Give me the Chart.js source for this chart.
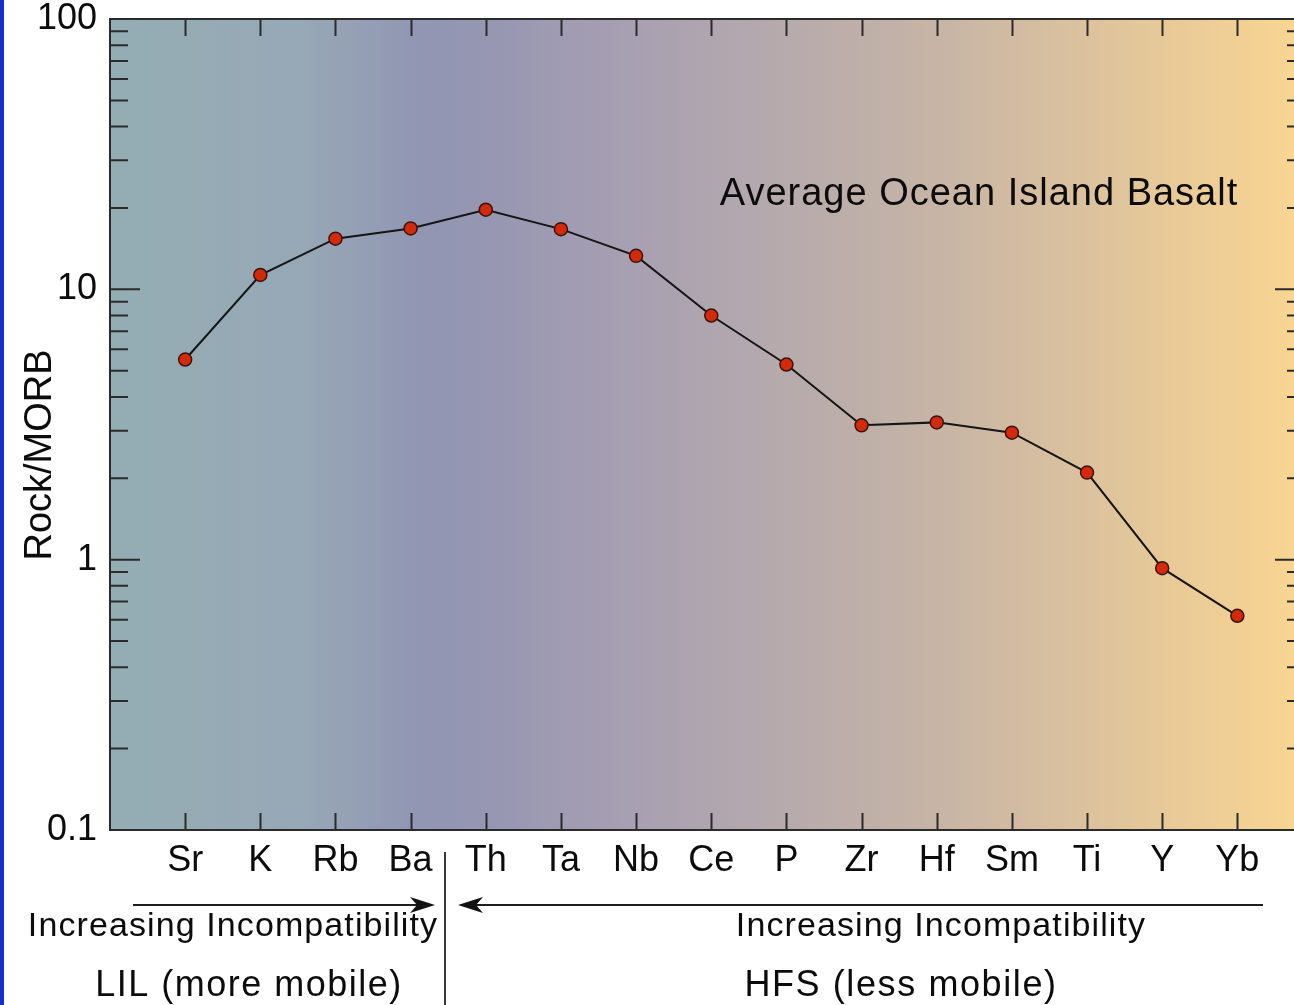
<!DOCTYPE html>
<html>
<head>
<meta charset="utf-8">
<script src="https://cdn.jsdelivr.net/npm/chart.js@4.4.1/dist/chart.umd.min.js"></script>
<style>
  html, body { margin: 0; padding: 0; background: #ffffff; overflow: hidden; }
  #wrap { position: relative; width: 1320px; height: 1005px; }
  #edge { position: absolute; left: 0; top: 0; width: 4px; height: 1005px; background: #1530c8; }
</style>
</head>
<body>
<div id="wrap"><canvas id="c"></canvas></div>
<div id="edge"></div>
<script>
// Trace elements, ordered by incompatibility
const elements = ['Sr', 'K', 'Rb', 'Ba', 'Th', 'Ta', 'Nb', 'Ce', 'P', 'Zr', 'Hf', 'Sm', 'Ti', 'Y', 'Yb'];
// Average ocean island basalt normalised to MORB
const oibOverMorb = [5.5, 11.3, 15.4, 16.8, 19.7, 16.7, 13.3, 8.0, 5.27, 3.14, 3.22, 2.95, 2.10, 0.93, 0.62];

const yTickValues = [0.1, 1, 10, 100];
const yTickLabels = ['0.1', '1', '10', '100'];
const minorSteps = [2, 3, 4, 5, 6, 7, 8, 9];

const chartTitle = 'Average Ocean Island Basalt';
const yTitle = 'Rock/MORB';
const lilLines = ['Increasing Incompatibility', 'LIL (more mobile)'];
const hfsLines = ['Increasing Incompatibility', 'HFS (less mobile)'];

const FONT = '"Liberation Sans", Arial, Helvetica, sans-serif';
const INK = '#0c0c0c';
const AXIS = '#2b2b2b';

// Background colour ramp across the plot area (left -> right)
const bgStops = [
  [0.00, '#94adb3'], [0.16, '#97a8b6'], [0.26, '#9196b3'], [0.31, '#9596b2'],
  [0.43, '#a79fb2'], [0.51, '#b0a6af'], [0.63, '#beafa8'], [0.70, '#c8b5a5'],
  [0.82, '#dcc29d'], [0.88, '#e7c998'], [1.00, '#fad692']
];

function spacedText(ctx, text, x, y, size, spacing) {
  ctx.font = `${size}px ${FONT}`;
  if ('letterSpacing' in ctx) ctx.letterSpacing = `${spacing}px`;
  ctx.fillText(text, x, y);
  if ('letterSpacing' in ctx) ctx.letterSpacing = '0px';
}

const decorations = {
  id: 'decorations',
  beforeDraw(chart) {
    const { ctx, chartArea: a } = chart;
    const g = ctx.createLinearGradient(a.left, 0, a.right, 0);
    bgStops.forEach(([p, c]) => g.addColorStop(p, c));
    ctx.save();
    ctx.fillStyle = g;
    ctx.fillRect(a.left, a.top, a.right - a.left, a.bottom - a.top);
    ctx.restore();
  },
  beforeDatasetsDraw(chart) {
    const { ctx, chartArea: a, scales: { x, y } } = chart;
    ctx.save();
    ctx.strokeStyle = AXIS;
    ctx.lineWidth = 2;
    ctx.beginPath();
    // category ticks, inward on top and bottom
    elements.forEach((_, i) => {
      const px = Math.round(x.getPixelForValue(i)) + 0.5;
      ctx.moveTo(px, a.top); ctx.lineTo(px, a.top + 17);
      ctx.moveTo(px, a.bottom); ctx.lineTo(px, a.bottom - 17);
    });
    // log ticks, inward on left and right
    yTickValues.forEach(v => {
      const py = y.getPixelForValue(v);
      ctx.moveTo(a.left, py); ctx.lineTo(a.left + 30, py);
      ctx.moveTo(a.right, py); ctx.lineTo(a.right - 30, py);
    });
    yTickValues.slice(0, -1).forEach(d => {
      minorSteps.forEach(m => {
        const py = y.getPixelForValue(d * m);
        ctx.moveTo(a.left, py); ctx.lineTo(a.left + 18, py);
        ctx.moveTo(a.right, py); ctx.lineTo(a.right - 18, py);
      });
    });
    ctx.stroke();
    ctx.strokeRect(a.left, a.top, a.right - a.left, a.bottom - a.top);
    ctx.restore();
  },
  afterDraw(chart) {
    const { ctx } = chart;
    ctx.save();
    ctx.fillStyle = INK;
    ctx.textBaseline = 'alphabetic';
    ctx.textAlign = 'center';

    // series caption
    spacedText(ctx, chartTitle, 979, 205, 38, 1);

    // y axis title
    ctx.save();
    ctx.translate(51, 455);
    ctx.rotate(-Math.PI / 2);
    spacedText(ctx, yTitle, 0, 0, 38, 0);
    ctx.restore();

    // group notes below the axis
    spacedText(ctx, lilLines[0], 233, 936, 34, 1.1);
    spacedText(ctx, hfsLines[0], 941, 936, 34, 1.1);
    spacedText(ctx, lilLines[1], 249, 996, 36, 1.5);
    spacedText(ctx, hfsLines[1], 901, 996, 36, 1.6);

    // separator between the two groups
    ctx.strokeStyle = '#3a3a3a';
    ctx.lineWidth = 2;
    ctx.beginPath();
    ctx.moveTo(445, 852); ctx.lineTo(445, 1005);
    ctx.stroke();

    // arrows
    ctx.strokeStyle = '#1e1e1e';
    ctx.fillStyle = '#111';
    const arrow = (x0, x1, yy) => {
      const dir = Math.sign(x1 - x0);
      ctx.beginPath();
      ctx.moveTo(x0, yy); ctx.lineTo(x1 - dir * 12, yy);
      ctx.stroke();
      ctx.beginPath();
      ctx.moveTo(x1, yy);
      ctx.lineTo(x1 - dir * 25, yy - 8);
      ctx.lineTo(x1 - dir * 18, yy);
      ctx.lineTo(x1 - dir * 25, yy + 8);
      ctx.closePath();
      ctx.fill();
    };
    arrow(133, 435, 905);
    arrow(1263, 458, 905);
    ctx.restore();
  }
};

new Chart(document.getElementById('c'), {
  type: 'line',
  data: {
    datasets: [{
      label: chartTitle,
      data: elements.map((_, i) => ({ x: i, y: oibOverMorb[i] })),
      borderColor: '#151515',
      borderWidth: 2,
      pointRadius: 6.5,
      pointBackgroundColor: '#d32a0c',
      pointBorderColor: '#3b1408',
      pointBorderWidth: 1.5,
      tension: 0
    }]
  },
  options: {
    responsive: true,
    maintainAspectRatio: false,
    animation: false,
    events: [],
    layout: { padding: { top: 19, right: 15, left: 0, bottom: 0 } },
    plugins: { legend: { display: false }, tooltip: { enabled: false } },
    scales: {
      x: {
        type: 'linear',
        min: -1,
        max: 14.9,
        grid: { display: false, drawTicks: false },
        border: { display: false },
        afterBuildTicks: s => { s.ticks = elements.map((_, i) => ({ value: i })); },
        afterFit: s => { s.height = 175; s.paddingLeft = 0; s.paddingRight = 0; },
        ticks: {
          padding: 13,
          autoSkip: false,
          maxRotation: 0,
          color: INK,
          font: { family: FONT, size: 36, lineHeight: 1 },
          callback: v => elements[v]
        }
      },
      y: {
        type: 'logarithmic',
        min: 0.1,
        max: 100,
        grid: { display: false, drawTicks: false },
        border: { display: false },
        afterBuildTicks: s => { s.ticks = yTickValues.map(v => ({ value: v })); },
        afterFit: s => { s.width = 110; s.paddingTop = 0; s.paddingBottom = 0; },
        ticks: {
          padding: 13,
          autoSkip: false,
          color: INK,
          font: { family: FONT, size: 36, lineHeight: 1 },
          callback: v => yTickLabels[yTickValues.indexOf(v)]
        }
      }
    }
  },
  plugins: [decorations]
});
</script>
</body>
</html>
